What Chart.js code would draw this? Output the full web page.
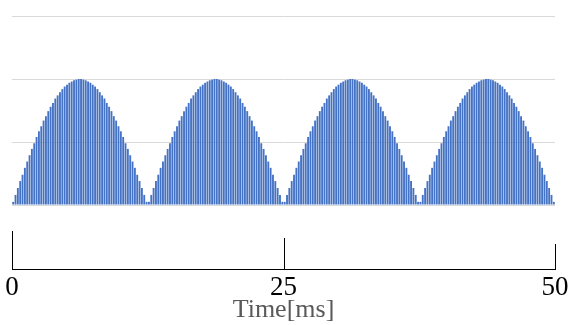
<!DOCTYPE html>
<html><head><meta charset="utf-8">
<script src="https://cdn.jsdelivr.net/npm/chart.js@4/dist/chart.umd.min.js"></script>
<style>html,body{margin:0;padding:0;background:#fff;overflow:hidden}#wrap{width:569px;height:325px;position:relative}</style>
</head><body><div id="wrap"><canvas id="c"></canvas></div>
<script>
// Rectified signal amplitude, one value per sample
const amplitude = [
 0.05,0.16,0.27,0.38,0.48,0.59,0.69,0.79,0.89,0.98,1.08,1.17,1.25,1.34,1.41,1.49,1.56,1.62,1.69,1.74,1.79,1.84,1.88,1.91,1.94,1.96,1.98,1.99,2.00,
 2.00,1.99,1.98,1.96,1.94,1.91,1.88,1.84,1.79,1.74,1.69,1.62,1.56,1.49,1.41,1.34,1.25,1.17,1.08,0.98,0.89,0.79,0.69,0.59,0.48,0.38,0.27,0.16,0.05,
 0.05,0.16,0.27,0.38,0.48,0.59,0.69,0.79,0.89,0.98,1.08,1.17,1.25,1.34,1.41,1.49,1.56,1.62,1.69,1.74,1.79,1.84,1.88,1.91,1.94,1.96,1.98,1.99,2.00,
 2.00,1.99,1.98,1.96,1.94,1.91,1.88,1.84,1.79,1.74,1.69,1.62,1.56,1.49,1.41,1.34,1.25,1.17,1.08,0.98,0.89,0.79,0.69,0.59,0.48,0.38,0.27,0.16,0.05,
 0.05,0.16,0.27,0.38,0.48,0.59,0.69,0.79,0.89,0.98,1.08,1.17,1.25,1.34,1.41,1.49,1.56,1.62,1.69,1.74,1.79,1.84,1.88,1.91,1.94,1.96,1.98,1.99,2.00,
 2.00,1.99,1.98,1.96,1.94,1.91,1.88,1.84,1.79,1.74,1.69,1.62,1.56,1.49,1.41,1.34,1.25,1.17,1.08,0.98,0.89,0.79,0.69,0.59,0.48,0.38,0.27,0.16,0.05,
 0.05,0.16,0.27,0.38,0.48,0.59,0.69,0.79,0.89,0.98,1.08,1.17,1.25,1.34,1.41,1.49,1.56,1.62,1.69,1.74,1.79,1.84,1.88,1.91,1.94,1.96,1.98,1.99,2.00,
 2.00,1.99,1.98,1.96,1.94,1.91,1.88,1.84,1.79,1.74,1.69,1.62,1.56,1.49,1.41,1.34,1.25,1.17,1.08,0.98,0.89,0.79,0.69,0.59,0.48,0.38,0.27,0.16,0.05
];
// Sample categories (index of each sample)
const sampleLabels = amplitude.map((_, i) => String(i));
// Time axis tick labels [ms]
const timeTicks = [0, 25, 50];
const timeMin = 0, timeMax = 50;
const yGridValues = [0, 1, 2, 3];
const axisTitle = 'Time[ms]';

const upTicks = {
  id: 'upTicks',
  afterDraw(chart, args, opts) {
    const s = chart.scales.x2;
    const ctx = chart.ctx;
    ctx.save();
    ctx.strokeStyle = '#000';
    ctx.lineWidth = 1;
    s.ticks.forEach((t, i) => {
      const x = Math.round(s.getPixelForValue(t.value)) + 0.5;
      const h = opts.heights[i] || opts.heights[opts.heights.length - 1];
      ctx.beginPath();
      ctx.moveTo(x, s.top);
      ctx.lineTo(x, s.top - h);
      ctx.stroke();
    });
    ctx.restore();
  }
};

new Chart(document.getElementById('c'), {
  type: 'bar',
  data: {
    labels: sampleLabels,
    datasets: [{
      data: amplitude,
      backgroundColor: '#4472C4',
      borderWidth: 0,
      barPercentage: 0.8,
      categoryPercentage: 1.0
    }]
  },
  options: {
    responsive: true,
    maintainAspectRatio: false,
    animation: false,
    events: [],
    layout: { padding: { left: 12, right: 14, top: 16, bottom: 2 } },
    plugins: {
      legend: { display: false },
      tooltip: { enabled: false },
      upTicks: { heights: [38, 31, 25] }
    },
    scales: {
      y: {
        min: 0, max: 3,
        afterBuildTicks: s => { s.ticks = yGridValues.map(v => ({ value: v })); },
        ticks: { display: false },
        border: { display: false },
        grid: { color: '#d9d9d9', lineWidth: 1, drawTicks: false, tickLength: 0 },
        afterFit: s => { s.width = 0; s.paddingTop = 0; s.paddingBottom = 0; }
      },
      x: {
        position: 'bottom',
        weight: 0,
        ticks: { display: false },
        grid: { display: false },
        border: { display: false },
        afterFit: s => { s.height = 64; s.paddingLeft = 0; s.paddingRight = 0; }
      },
      x2: {
        type: 'linear',
        position: 'bottom',
        weight: 1,
        offset: false,
        min: timeMin, max: timeMax,
        afterBuildTicks: s => { s.ticks = timeTicks.map(v => ({ value: v })); },
        afterFit: s => { s.height = 54; s.paddingLeft = 0; s.paddingRight = 0; },
        ticks: {
          color: '#000',
          padding: 5,
          maxRotation: 0,
          autoSkip: false,
          font: { family: '"Liberation Serif", "DejaVu Serif", serif', size: 27, lineHeight: 1 }
        },
        grid: { drawOnChartArea: false, drawTicks: false, tickLength: 0 },
        border: { display: true, color: '#000', width: 1 },
        title: {
          display: true,
          text: axisTitle,
          color: '#595959',
          padding: { top: 0, bottom: 0 },
          font: { family: '"Liberation Serif", "DejaVu Serif", serif', size: 26, lineHeight: 1 }
        }
      }
    }
  },
  plugins: [upTicks]
});
</script>
</body></html>
